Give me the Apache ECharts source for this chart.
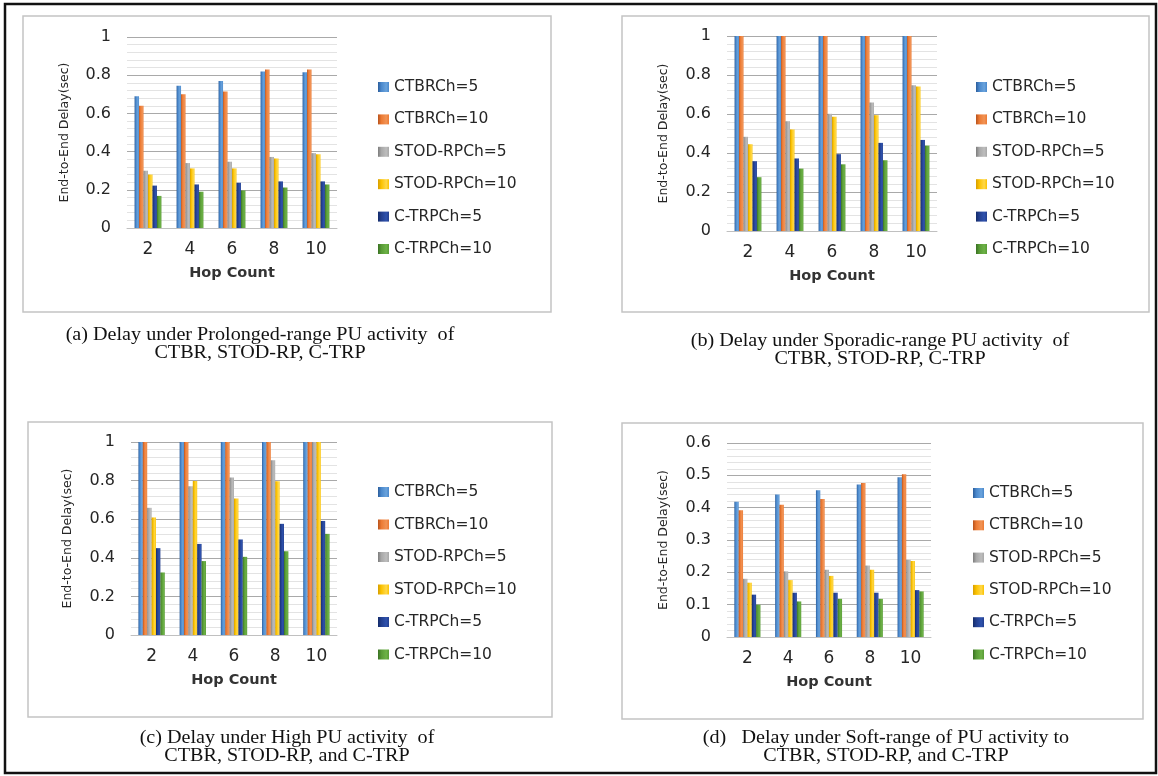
<!DOCTYPE html>
<html>
<head>
<meta charset="utf-8">
<script src="https://cdn.jsdelivr.net/npm/echarts@6/dist/echarts.min.js"></script>
<style>
  html, body { margin: 0; padding: 0; background: #fff; }
  #main { width: 1158px; height: 776px; }
</style>
</head>
<body>
<div id="main"></div>
<script>
var chartDom = document.getElementById('main');
var myChart = echarts.init(chartDom);

// hop counts on the x axis
var hops = ['2', '4', '6', '8', '10'];
var names = ['CTBRCh=5', 'CTBRCh=10', 'STOD-RPCh=5', 'STOD-RPCh=10', 'C-TRPCh=5', 'C-TRPCh=10'];

// (a) Prolonged-range PU activity
var prolonged = [
    [0.69, 0.745, 0.77, 0.82, 0.815],
    [0.64, 0.70, 0.715, 0.83, 0.83],
    [0.30, 0.34, 0.347, 0.372, 0.392],
    [0.28, 0.312, 0.312, 0.364, 0.386],
    [0.222, 0.228, 0.237, 0.244, 0.244],
    [0.168, 0.19, 0.197, 0.212, 0.228]
];
// (b) Sporadic-range PU activity
var sporadic = [
    [1, 1, 1, 1, 1],
    [1, 1, 1, 1, 1],
    [0.483, 0.563, 0.601, 0.659, 0.748],
    [0.445, 0.521, 0.586, 0.594, 0.741],
    [0.358, 0.372, 0.394, 0.452, 0.467],
    [0.276, 0.32, 0.342, 0.363, 0.438]
];
// (c) High PU activity
var high = [
    [1, 1, 1, 1, 1],
    [1, 1, 1, 1, 1],
    [0.659, 0.771, 0.816, 0.905, 1],
    [0.609, 0.798, 0.707, 0.797, 1],
    [0.45, 0.472, 0.495, 0.576, 0.591],
    [0.324, 0.383, 0.405, 0.434, 0.524]
];
// (d) Soft-range PU activity
var soft = [
    [0.418, 0.441, 0.454, 0.472, 0.494],
    [0.392, 0.409, 0.427, 0.476, 0.503],
    [0.18, 0.203, 0.208, 0.221, 0.239],
    [0.168, 0.176, 0.189, 0.208, 0.235],
    [0.131, 0.137, 0.137, 0.137, 0.145],
    [0.10, 0.11, 0.118, 0.118, 0.141]
];

var captions = [
    '(a) Delay under Prolonged-range PU activity  of\nCTBR, STOD-RP, C-TRP',
    '(b) Delay under Sporadic-range PU activity  of\nCTBR, STOD-RP, C-TRP',
    '(c) Delay under High PU activity  of\nCTBR, STOD-RP, and C-TRP',
    '(d)   Delay under Soft-range of PU activity to\nCTBR, STOD-RP, and C-TRP'
];

// bar colours (dark edge, main, light)
var colors = [
    ['#2c5e9c', '#4a88cc', '#6aa3dc'],
    ['#b8521c', '#ec7a33', '#f19355'],
    ['#7d7d7d', '#a8a8a8', '#bdbdbd'],
    ['#d69e00', '#fbc200', '#ffd84a'],
    ['#142c6a', '#233f8f', '#2f52ad'],
    ['#3a7123', '#589b36', '#6db247']
];

// layout of the four panels
var panels = [
    {data: prolonged, max: 1, step: 0.2, grid: {left: 127, top: 37, width: 210, height: 191}, legend: {left: 373, top: 73, gap: 14.4}, nameX: 56, box: [23, 16, 528, 296], cap: [260, 326]},
    {data: sporadic, max: 1, step: 0.2, grid: {left: 727, top: 36, width: 210, height: 195}, legend: {left: 971, top: 73, gap: 14.4}, nameX: 57, box: [622, 16, 527, 296], cap: [880, 332]},
    {data: high, max: 1, step: 0.2, grid: {left: 131, top: 442, width: 206, height: 193}, legend: {left: 373, top: 478, gap: 14.5}, nameX: 57, box: [28, 422, 524, 295], cap: [287, 729]},
    {data: soft, max: 0.6, step: 0.1, grid: {left: 727, top: 443, width: 204, height: 194}, legend: {left: 968, top: 479, gap: 14.3}, nameX: 57, box: [622, 423, 521, 296], cap: [886, 729]}
];

var option = {
    backgroundColor: '#fff',
    animation: false,
    grid: [], xAxis: [], yAxis: [], legend: [], series: [],
    graphic: []
};

option.graphic.push({
    type: 'rect', shape: {x: 5, y: 4, width: 1151, height: 769},
    style: {fill: null, stroke: '#111', lineWidth: 2.5}, z: 100
});

panels.forEach(function (p, i) {
    option.grid.push(p.grid);
    option.xAxis.push({
        type: 'category', gridIndex: i, data: hops,
        name: 'Hop Count', nameLocation: 'middle', nameGap: 38,
        nameTextStyle: {fontFamily: 'DejaVu Sans', fontSize: 14.5, fontWeight: 'bold', color: '#333'},
        axisLine: {lineStyle: {color: '#c0c0c0', width: 1}},
        axisTick: {show: false},
        axisLabel: {margin: 13, fontFamily: 'DejaVu Sans', fontSize: 17, color: '#262626'}
    });
    option.yAxis.push({
        type: 'value', gridIndex: i, min: 0, max: p.max, interval: p.step,
        name: 'End-to-End Delay(sec)', nameLocation: 'middle', nameGap: p.nameX,
        nameTextStyle: {fontFamily: 'DejaVu Sans', fontSize: 12.5, color: '#262626'},
        axisLine: {show: false}, axisTick: {show: false},
        axisLabel: {margin: 16, fontFamily: 'DejaVu Sans', fontSize: 16, color: '#262626'},
        splitLine: {lineStyle: {color: '#a9a9a9', width: 1}},
        minorTick: {show: false, splitNumber: 5},
        minorSplitLine: {show: true, lineStyle: {color: '#e3e3e3', width: 1}}
    });
    option.legend.push({
        orient: 'vertical', left: p.legend.left, top: p.legend.top,
        itemGap: p.legend.gap, itemWidth: 11, itemHeight: 10, icon: 'rect',
        data: names,
        textStyle: {fontFamily: 'DejaVu Sans', fontSize: 15.5, color: '#262626', lineHeight: 18}
    });
    p.data.forEach(function (vals, k) {
        option.series.push({
            name: names[k], type: 'bar',
            xAxisIndex: i, yAxisIndex: i,
            data: vals,
            barGap: '0%', barCategoryGap: '36%',
            itemStyle: {
                color: new echarts.graphic.LinearGradient(0, 0, 1, 0, [
                    {offset: 0, color: colors[k][0]},
                    {offset: 0.3, color: colors[k][1]},
                    {offset: 0.75, color: colors[k][2]},
                    {offset: 1, color: colors[k][1]}
                ])
            }
        });
    });
    option.graphic.push({
        type: 'rect', shape: {x: p.box[0], y: p.box[1], width: p.box[2], height: p.box[3]},
        style: {fill: null, stroke: '#c4c4c4', lineWidth: 1.5}, z: 100
    });
    option.graphic.push({
        type: 'text', x: p.cap[0], y: p.cap[1], z: 100, scaleX: 1.06,
        style: {
            text: captions[i], textAlign: 'center', textVerticalAlign: 'top',
            fontFamily: 'Liberation Serif', fontSize: 19, lineHeight: 18, fill: '#111'
        }
    });
});

option && myChart.setOption(option);
</script>
</body>
</html>
